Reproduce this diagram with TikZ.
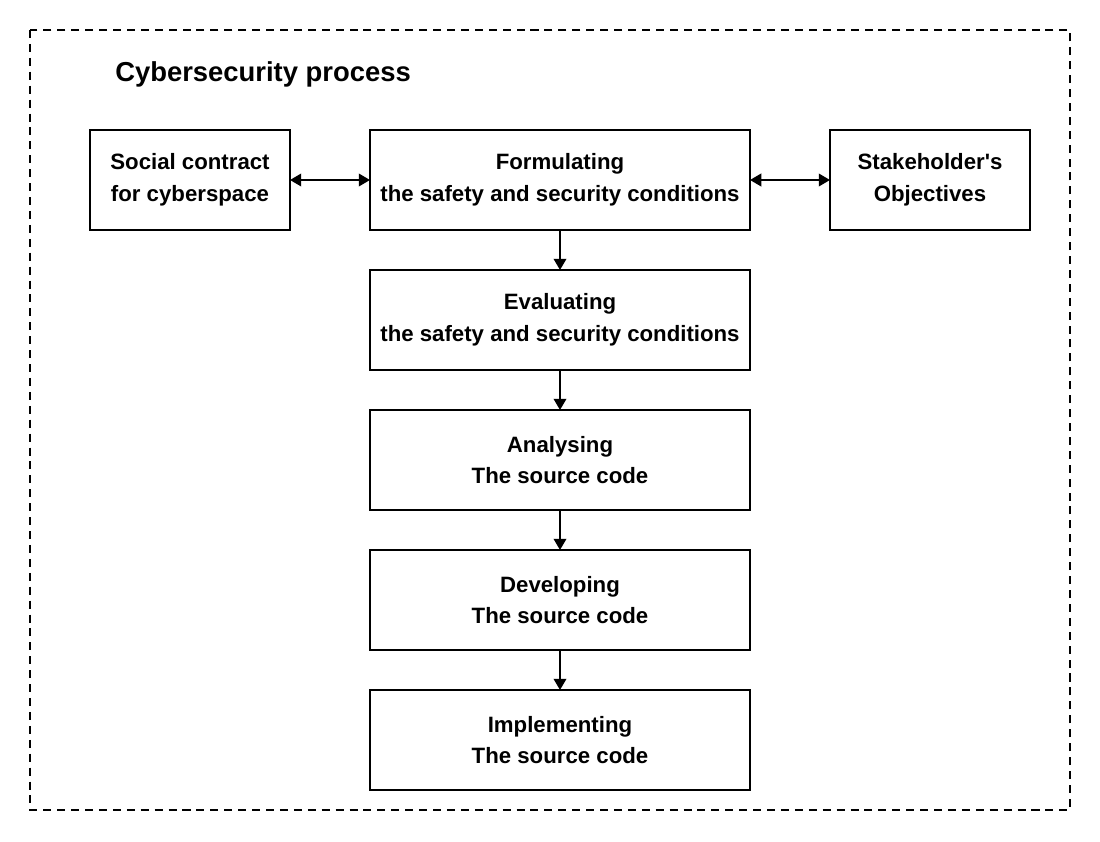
\documentclass[tikz,border=0pt]{standalone}
\usepackage{fontspec}
\setmainfont{Liberation Sans}
\usetikzlibrary{arrows.meta, positioning}

\begin{document}
\begin{tikzpicture}[
    stagebox/.style={draw, line width=1.3pt, outer sep=0pt, minimum width=9.5cm, minimum height=2.5cm,
                     align=center, font=\bfseries\fontsize{15.8}{22.5}\selectfont},
    sidebox/.style={stagebox, minimum width=5cm},
    flow/.style={-{Triangle[length=8pt,width=9pt]}, line width=1.3pt},
    twoway/.style={{Triangle[length=8pt,width=9pt]}-{Triangle[length=8pt,width=9pt]}, line width=1.3pt},
    node distance=1cm and 2cm]
  \useasboundingbox (0,0) rectangle (27.5,-21.05);
  % Dashed frame and title
  \draw[line width=1.3pt, dash pattern=on 5.7pt off 4.2pt] (0.75,-0.75) rectangle (26.75,-20.25);
  \node[anchor=west, inner sep=0pt, font=\bfseries\fontsize{19.5}{23}\selectfont] (title) at (2.875,-1.85) {Cybersecurity process};
  % Top row
  \node[stagebox] (formulate) at (14,-4.5) {Formulating\\the safety and security conditions};
  \node[sidebox, left=of formulate] (contract) {Social contract\\for cyberspace};
  \node[sidebox, right=of formulate] (objectives) {Stakeholder\textquotesingle s\\Objectives};
  % Process chain
  \node[stagebox, below=of formulate] (evaluate) {Evaluating\\the safety and security conditions};
  \node[stagebox, below=of evaluate] (analyse) {Analysing\\The source code};
  \node[stagebox, below=of analyse] (develop) {Developing\\The source code};
  \node[stagebox, below=of develop] (implement) {Implementing\\The source code};
  % Connectors
  \draw[twoway] (contract) -- (formulate);
  \draw[twoway] (formulate) -- (objectives);
  \draw[flow] (formulate) -- (evaluate);
  \draw[flow] (evaluate) -- (analyse);
  \draw[flow] (analyse) -- (develop);
  \draw[flow] (develop) -- (implement);
\end{tikzpicture}
\end{document}
